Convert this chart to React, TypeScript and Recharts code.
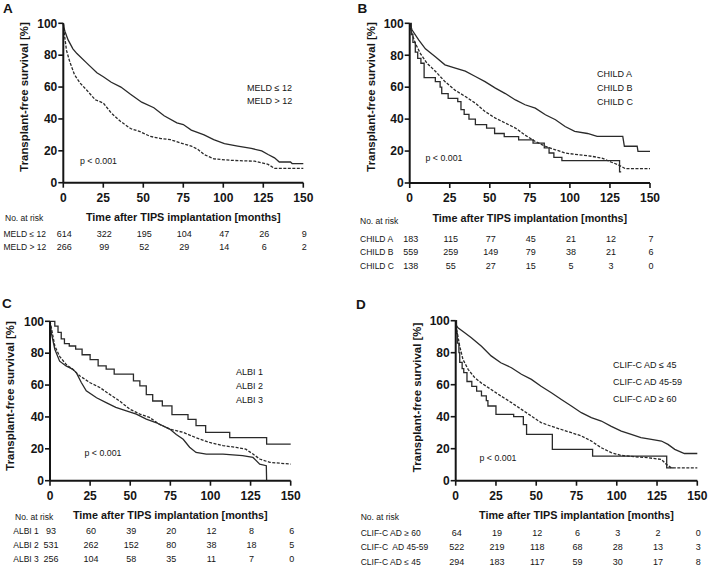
import React from 'react';
import { LineChart, Line, XAxis, YAxis, Legend } from 'recharts';

// survival curves: [month, transplant-free survival %]
const months = [0, 25, 50, 75, 100, 125, 150];
const yTicks = [0, 20, 40, 60, 80, 100];

const meldLow = [[0, 100], [0.5, 97], [1, 95], [3, 89.6], [6, 84], [8.5, 81], [14.7, 75], [21, 69], [25, 66.5], [30, 63], [36, 60], [42, 55.5], [49, 50.5], [56.6, 47], [63, 42], [71, 37.5], [75, 36.5], [80, 33], [88, 30], [94, 27], [100.7, 24.5], [109, 23], [117.5, 21.5], [124, 20], [128, 17.7], [132, 15.6], [135, 13], [142, 13], [143, 12], [150, 12]];
const meldHigh = [[0, 100], [0.5, 95], [1, 90.6], [2, 83], [4, 76], [7, 67.7], [10.5, 62.5], [14.7, 58], [20, 52], [25, 50], [30, 43.7], [35.7, 38.5], [42, 34], [48, 32], [54.5, 29], [61, 27.7], [67, 27], [73, 25], [80, 23], [84, 21], [88, 17.7], [94, 15], [105, 14], [119.6, 13.5], [128, 11.5], [132, 9], [150, 9]];

const childA = [[0, 100], [1.5, 95.8], [5.6, 89.6], [9.8, 84], [16, 79], [22, 74], [28.5, 72], [34.7, 70], [41, 66.7], [47, 63.5], [53.5, 59.4], [59.7, 56], [66, 52], [72, 49], [78.4, 46.9], [84.7, 42.7], [91, 39.6], [97, 35.4], [103, 32.3], [111, 31], [117, 29.2], [133, 29.2], [134, 23], [142, 23], [142.5, 19.8], [150, 19.8]];
const childB = [[0, 100], [1, 94.8], [3.5, 87.5], [6.7, 81], [10.8, 75], [16, 70], [22, 63.5], [28.5, 58], [35, 54], [41, 50], [47, 44.8], [53.5, 40.6], [59.7, 37.5], [66, 34.4], [72, 30], [78.4, 26], [84.7, 23], [91, 20.8], [97, 18.75], [105.5, 17.7], [113.8, 16.7], [120, 15.6], [126, 13], [130, 11.5], [134.6, 9], [150, 9]];
const childC = [[0, 100], [1, 93], [2, 88], [3.5, 82], [5, 78], [7, 75], [9, 66], [16, 63.5], [19, 60], [20, 56], [24, 53], [30, 51], [32, 46], [34, 43], [37, 40], [41, 36.5], [48, 34.4], [53, 31], [59, 29], [68, 27], [77, 25], [84, 22], [87, 18.8], [90, 16], [95, 14], [131, 7], [132, 7]];

const albi1 = [[0, 100], [3, 97], [5, 93], [7, 89], [9, 86], [12, 84.5], [16, 82.5], [20, 79], [25, 76], [30, 72], [35, 70], [40, 66.8], [52, 62.6], [56, 59.5], [60, 54], [64, 50], [70, 47], [76, 41.5], [86, 38.5], [91, 34.5], [97, 30.3], [112, 27], [135, 23], [150, 23]];
const albi2 = [[0, 100], [1, 95], [3, 84.5], [6, 78], [10, 73], [14, 70], [18.5, 65.8], [24.7, 61.6], [31, 58.5], [37, 54.3], [43.4, 50], [49.7, 44.9], [56, 41.8], [62, 39.7], [68, 35.5], [74.6, 32.4], [83, 30.3], [91, 27], [99.5, 24], [107.8, 22], [116, 20.9], [122, 19.8], [126.5, 16.7], [130.7, 13.6], [137, 11.5], [150, 10.4]];
const albi3 = [[0, 100], [1, 91.9], [3, 82.5], [6, 75], [10, 72], [14, 70], [16.4, 67.8], [19.5, 61.6], [22.6, 56.4], [29, 52], [35, 49], [41, 46], [47.6, 43.8], [53.8, 41.8], [60, 38.6], [66, 36.5], [74.6, 32.4], [78.7, 29], [83, 26], [87, 21], [91, 17.7], [97.4, 16.7], [107.8, 16.7], [120, 15.7], [126.5, 14.6], [130.7, 10.4], [134.8, 9.4], [135, 0]];

const clifLow = [[0, 100], [0.5, 97], [1.4, 95.6], [5.6, 92.5], [9.7, 89.4], [16, 84], [22, 78], [28, 73.7], [34.6, 70.6], [40.8, 66.5], [47, 63.3], [53, 59], [59.4, 55], [65.6, 50.8], [71.8, 46.7], [78, 42.5], [84.2, 39.4], [90.4, 37.3], [96.6, 34], [102.8, 31], [109, 29], [115, 26.9], [121.5, 25.8], [127.7, 24.8], [131.8, 22.7], [136, 19.6], [142, 17], [150, 17]];
const clifMid = [[0, 100], [0.5, 96], [1, 92.5], [2.5, 84], [4.5, 75.8], [7.7, 69.6], [11.8, 64.4], [16, 61], [22, 57], [28, 53], [34.6, 48.8], [40.8, 44.6], [47, 40.4], [53, 36.3], [59.4, 34], [65.6, 32], [71.8, 30], [78, 28], [84.2, 24.8], [90.4, 20.6], [96.6, 17.5], [102.8, 15.8], [111, 15], [119, 14.4], [127.7, 13.3], [130.8, 10.2], [133.9, 8], [150, 8]];
const clifHigh = [[0, 100], [0.5, 92], [1, 86], [2, 80], [2.5, 74], [4, 70], [5, 67.5], [7, 62], [10, 59], [13, 56], [16, 53], [19, 50], [20, 46.7], [25, 41.5], [36, 40], [42, 35], [44, 29], [60, 19.6], [85, 15.4], [131, 8], [135, 8]];

// numbers at risk, one value per month tick
const riskMeldLow = [614, 322, 195, 104, 47, 26, 9];
const riskMeldHigh = [266, 99, 52, 29, 14, 6, 2];
const riskChildA = [183, 115, 77, 45, 21, 12, 7];
const riskChildB = [559, 259, 149, 79, 38, 21, 6];
const riskChildC = [138, 55, 27, 15, 5, 3, 0];
const riskAlbi1 = [93, 60, 39, 20, 12, 8, 6];
const riskAlbi2 = [531, 262, 152, 80, 38, 18, 5];
const riskAlbi3 = [256, 104, 58, 35, 11, 7, 0];
const riskClifHigh = [64, 19, 12, 6, 3, 2, 0];
const riskClifMid = [522, 219, 118, 68, 28, 13, 3];
const riskClifLow = [294, 183, 117, 59, 30, 17, 8];

const ink = '#151515';
const lineInk = '#2a2a2a';
const font = '"Liberation Sans", Arial, Helvetica, sans-serif';

const toData = (pts: number[][]) => pts.map(([t, s]) => ({ t, s }));

const panels = [
  {
    letter: 'A', left: 0, top: 0, width: 354, height: 290,
    plot: { l: 63.3, r: 303.3, t: 23.3, b: 182.7 },
    yTitle: { x: 24, y: 97 },
    legend: { x: 247, ys: [88.5, 101.5] },
    pval: { x: 80, y: 161.5 },
    letterPos: { x: 3, y: 8.5 },
    noRisk: { x: 5, y: 218 }, rowLabelX: 3.5, rowYs: [233.5, 247],
    series: [
      { name: 'MELD ≤ 12', pts: meldLow, dashed: false, step: false },
      { name: 'MELD > 12', pts: meldHigh, dashed: true, step: false },
    ],
    risk: [
      { label: 'MELD ≤ 12', values: riskMeldLow },
      { label: 'MELD > 12', values: riskMeldHigh },
    ],
  },
  {
    letter: 'B', left: 354, top: 0, width: 354, height: 290,
    plot: { l: 55.7, r: 296, t: 23.3, b: 183 },
    yTitle: { x: 16.7, y: 97 },
    legend: { x: 243, ys: [74.5, 88.5, 102.5] },
    pval: { x: 71.5, y: 158 },
    letterPos: { x: 3.5, y: 8.5 },
    noRisk: { x: 6, y: 221 }, rowLabelX: 6, rowYs: [238.5, 252, 266],
    series: [
      { name: 'CHILD A', pts: childA, dashed: false, step: false },
      { name: 'CHILD B', pts: childB, dashed: true, step: false },
      { name: 'CHILD C', pts: childC, dashed: false, step: true },
    ],
    risk: [
      { label: 'CHILD A', values: riskChildA },
      { label: 'CHILD B', values: riskChildB },
      { label: 'CHILD C', values: riskChildC },
    ],
  },
  {
    letter: 'C', left: 0, top: 290, width: 354, height: 279,
    plot: { l: 50, r: 290.7, t: 31.3, b: 190.7 },
    yTitle: { x: 9.5, y: 106 },
    legend: { x: 236, ys: [82.5, 96.5, 110] },
    pval: { x: 84.5, y: 163 },
    letterPos: { x: 2, y: 13.5 },
    noRisk: { x: 15, y: 226.7 }, rowLabelX: 13.3, rowYs: [241, 255, 269],
    series: [
      { name: 'ALBI 1', pts: albi1, dashed: false, step: true },
      { name: 'ALBI 2', pts: albi2, dashed: true, step: false },
      { name: 'ALBI 3', pts: albi3, dashed: false, step: false },
    ],
    risk: [
      { label: 'ALBI 1', values: riskAlbi1 },
      { label: 'ALBI 2', values: riskAlbi2 },
      { label: 'ALBI 3', values: riskAlbi3 },
    ],
  },
  {
    letter: 'D', left: 354, top: 290, width: 354, height: 279,
    plot: { l: 101.7, r: 343.3, t: 30.7, b: 190.7 },
    yTitle: { x: 62.5, y: 107.5 },
    legend: { x: 259, ys: [75.5, 92.5, 109.3] },
    pval: { x: 125.5, y: 168.5 },
    letterPos: { x: 2, y: 15 },
    noRisk: { x: 6.7, y: 226.7 }, rowLabelX: 6.7, rowYs: [242.7, 257.3, 271.7],
    series: [
      { name: 'CLIF-C AD ≤ 45', pts: clifLow, dashed: false, step: false },
      { name: 'CLIF-C AD 45-59', pts: clifMid, dashed: true, step: false },
      { name: 'CLIF-C AD ≥ 60', pts: clifHigh, dashed: false, step: true },
    ],
    risk: [
      { label: 'CLIF-C AD ≥ 60', values: riskClifHigh },
      { label: 'CLIF-C  AD 45-59', values: riskClifMid },
      { label: 'CLIF-C AD ≤ 45', values: riskClifLow },
    ],
  },
];

function RiskTick(props: any) {
  const { x, payload, p } = props;
  const idx = months.indexOf(payload.value);
  const axisY = p.plot.b;
  return (
    <g fontFamily={font}>
      <text x={x} y={axisY + 15} textAnchor="middle" dominantBaseline="central" fontSize={12} fontWeight="bold" fill={ink}>
        {payload.value}
      </text>
      {p.risk.map((r: any, i: number) => (
        <text key={i} x={x + 1} y={p.rowYs[i]} textAnchor="middle" dominantBaseline="central" fontSize={9} fill={ink}>
          {r.values[idx]}
        </text>
      ))}
      {idx === 0 && (
        <g>
          <text x={p.noRisk.x} y={p.noRisk.y} dominantBaseline="central" fontSize={8.5} fill={ink}>No. at risk</text>
          {p.risk.map((r: any, i: number) => (
            <text key={i} x={p.rowLabelX} y={p.rowYs[i]} dominantBaseline="central" fontSize={8.5} fill={ink} style={{ whiteSpace: 'pre' }}>
              {r.label}
            </text>
          ))}
        </g>
      )}
    </g>
  );
}

function Panel({ p }: { p: any }) {
  const yw = 30;
  const xh = 30;
  const margin = {
    top: p.plot.t,
    right: p.width - p.plot.r,
    left: p.plot.l - yw,
    bottom: p.height - p.plot.b - xh,
  };
  const cx = (p.plot.l + p.plot.r) / 2;

  return (
    <div style={{ position: 'absolute', left: p.left, top: p.top, width: p.width, height: p.height }}>
      <LineChart width={p.width} height={p.height} margin={margin}>
        <XAxis
          dataKey="t"
          type="number"
          domain={[0, 150]}
          ticks={months}
          interval={0}
          height={xh}
          tickSize={5}
          axisLine={{ stroke: ink, strokeWidth: 2 }}
          tickLine={{ stroke: ink, strokeWidth: 1.6 }}
          tick={(tp: any) => <RiskTick {...tp} p={p} />}
          label={() => (
            <text x={cx} y={p.plot.b + 34.5} textAnchor="middle" dominantBaseline="central"
              fontFamily={font} fontSize={10.8} fontWeight="bold" fill={ink}>
              Time after TIPS implantation [months]
            </text>
          )}
        />
        <YAxis
          type="number"
          domain={[0, 100]}
          ticks={yTicks}
          interval={0}
          width={yw}
          tickSize={5}
          tickMargin={1}
          axisLine={{ stroke: ink, strokeWidth: 2 }}
          tickLine={{ stroke: ink, strokeWidth: 1.6 }}
          tick={{ fill: ink, fontSize: 12, fontWeight: 'bold', fontFamily: font }}
          label={() => (
            <text x={p.yTitle.x} y={p.yTitle.y} textAnchor="middle" dominantBaseline="central"
              transform={`rotate(-90 ${p.yTitle.x} ${p.yTitle.y})`}
              fontFamily={font} fontSize={11.4} fontWeight="bold" fill={ink}>
              Transplant-free survival [%]
            </text>
          )}
        />
        <Legend
          layout="vertical"
          align="center"
          verticalAlign="middle"
          wrapperStyle={{ left: p.legend.x, top: 0, width: 110, height: 0 }}
          content={({ payload }: any) => (
            <div style={{ position: 'relative' }}>
              {(payload || []).map((e: any) => {
                const i = p.series.findIndex((s: any) => s.name === e.value);
                return (
                  <div key={e.value} style={{
                    position: 'absolute', left: 0, top: p.legend.ys[i] - 5.5, whiteSpace: 'nowrap',
                    fontFamily: font, fontSize: 9, lineHeight: '11px', color: ink,
                  }}>
                    {e.value}
                  </div>
                );
              })}
            </div>
          )}
        />
        {p.series.map((s: any) => (
          <Line
            key={s.name}
            name={s.name}
            data={toData(s.pts)}
            dataKey="s"
            type={s.step ? 'stepAfter' : 'linear'}
            stroke={lineInk}
            strokeWidth={1.3}
            strokeDasharray={s.dashed ? '3 1.5' : undefined}
            dot={false}
            activeDot={false}
            isAnimationActive={false}
          />
        ))}
      </LineChart>
      <div style={{
        position: 'absolute', left: p.letterPos.x, top: p.letterPos.y - 8, fontFamily: font,
        fontSize: 13.5, fontWeight: 'bold', lineHeight: '16px', color: ink,
      }}>{p.letter}</div>
      <div style={{
        position: 'absolute', left: p.pval.x, top: p.pval.y - 5.5, fontFamily: font,
        fontSize: 8.8, lineHeight: '11px', color: ink, whiteSpace: 'nowrap',
      }}>p &lt; 0.001</div>
    </div>
  );
}

export default function App() {
  return (
    <div style={{ position: 'absolute', left: 0, top: 0, width: 709, height: 569, background: '#fff', overflow: 'hidden' }}>
      {panels.map((p) => <Panel key={p.letter} p={p} />)}
    </div>
  );
}
